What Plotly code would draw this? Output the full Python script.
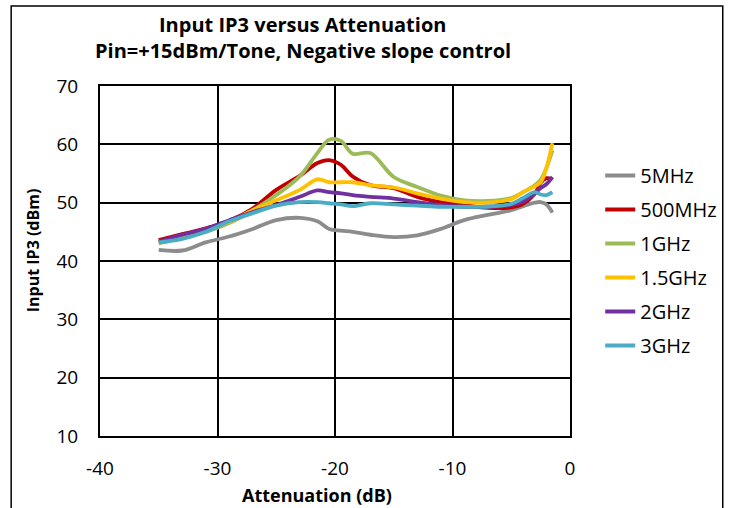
import plotly.graph_objects as go

# attenuation sample points (dB)
atten = [-35, -33, -31, -29, -27, -25, -23, -21.5, -20.5, -19.5, -18.5, -17,
         -15, -13, -11, -9, -7, -5, -4, -3, -2.5, -2, -1.5]

iip3_5mhz = [41.9, 41.8, 43.2, 44.2, 45.5, 47.0, 47.4, 46.8, 45.5, 45.2, 45.0, 44.5,
             44.1, 44.4, 45.5, 47.0, 47.9, 48.7, 49.4, 50.0, 50.1, 49.7, 48.3]
iip3_500mhz = [43.6, 44.6, 45.6, 46.9, 49.0, 52.2, 54.6, 56.8, 57.3, 56.5, 54.5, 53.0,
               52.5, 51.0, 50.1, 49.6, 49.1, 49.2, 49.8, 51.5, 53.4, 54.2, 54.0]
iip3_1ghz = [43.0, 44.0, 45.0, 46.5, 48.7, 51.3, 54.5, 58.5, 60.8, 60.6, 58.4, 58.5,
             54.4, 52.7, 51.2, 50.4, 50.3, 50.8, 51.8, 53.0, 53.9, 56.0, 59.0]
iip3_1p5ghz = [43.2, 44.3, 45.4, 46.7, 48.7, 50.4, 52.2, 54.0, 53.5, 53.5, 53.5, 53.0,
               52.6, 51.6, 50.7, 50.1, 50.0, 50.6, 51.8, 52.8, 53.5, 56.0, 60.2]
iip3_2ghz = [43.3, 44.5, 45.5, 47.0, 48.4, 49.6, 51.0, 52.1, 51.8, 51.6, 51.3, 51.0,
             50.7, 50.1, 49.6, 49.3, 49.3, 49.6, 50.2, 51.6, 52.5, 53.2, 54.4]
iip3_3ghz = [43.2, 43.8, 45.0, 46.8, 48.2, 49.5, 50.1, 50.1, 49.9, 49.7, 49.4, 49.9,
             49.7, 49.5, 49.3, 49.3, 49.3, 49.8, 50.8, 51.8, 51.4, 51.3, 51.8]

x_ticks = [-40, -30, -20, -10, 0]
x_tick_text = ["-40", "-30", "-20", "-10", "0"]

series = [
    ("5MHz", iip3_5mhz, "#8C8C8C"),
    ("500MHz", iip3_500mhz, "#C00000"),
    ("1GHz", iip3_1ghz, "#9BBB59"),
    ("1.5GHz", iip3_1p5ghz, "#FFC000"),
    ("2GHz", iip3_2ghz, "#7030A0"),
    ("3GHz", iip3_3ghz, "#4BACC6"),
]

FONT = "Open Sans"

fig = go.Figure()
for name, vals, color in series:
    fig.add_trace(go.Scatter(
        x=atten,
        y=vals,
        mode="lines",
        name=name,
        legendgroup=name,
        line=dict(color=color, width=3.8, shape="spline", smoothing=1.0),
    ))

axis_style = dict(
    showgrid=True,
    gridcolor="black",
    gridwidth=2,
    showline=True,
    linecolor="black",
    linewidth=2,
    mirror=True,
    zeroline=False,
    ticks="",
    tickfont=dict(family=FONT, size=19, color="black"),
)

fig.update_xaxes(range=[-40, 0], tickvals=x_ticks, ticktext=x_tick_text,
                 ticklabelstandoff=14, **axis_style)
fig.update_yaxes(range=[10, 70], dtick=10, ticklabelstandoff=16, **axis_style)

annotations = [
    dict(text="<b>Input IP3 versus Attenuation</b>", x=0.431, y=1.177,
         font=dict(size=20)),
    dict(text="<b>Pin=+15dBm/Tone, Negative slope control</b>", x=0.431, y=1.100,
         font=dict(size=20)),
    dict(text="<b>Attenuation (dB)</b>", x=0.4607, y=-0.1686, font=dict(size=18)),
    dict(text="<b>Input IP3 (dBm)</b>", x=-0.1423, y=0.531, textangle=-90,
         font=dict(size=16)),
]
for a in annotations:
    a.update(xref="paper", yref="paper", showarrow=False,
             xanchor="center", yanchor="middle")
    a["font"].update(family=FONT, color="black")

fig.update_layout(
    width=733,
    height=508,
    margin=dict(l=100, r=162, t=86, b=72),
    paper_bgcolor="white",
    plot_bgcolor="white",
    annotations=annotations,
    showlegend=True,
    legend=dict(
        x=1.062, y=0.80, xanchor="left", yanchor="top",
        font=dict(family=FONT, size=20, color="black"),
        tracegroupgap=5,
        bgcolor="rgba(0,0,0,0)",
    ),
    shapes=[dict(
        type="rect", xref="paper", yref="paper",
        x0=-0.189, x1=1.325, y0=-0.22, y1=1.2286,
        line=dict(color="black", width=1.5),
    )],
)

fig.write_html("out.html", config={"displayModeBar": False},
               post_script="document.body.style.margin='0';")
